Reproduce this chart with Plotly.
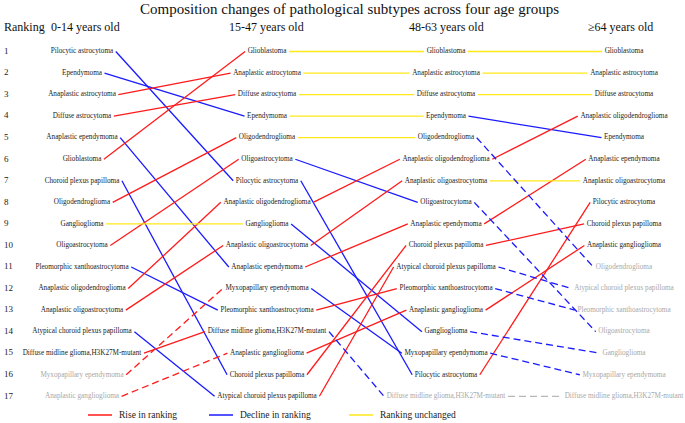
import plotly.graph_objects as go

# ---------------- data ----------------
ranks = list(range(1, 18))
age_groups = ["0-14 years old", "15-47 years old", "48-63 years old", "\u226564 years old"]

col_0_14 = [
    "Pilocytic astrocytoma", "Ependymoma", "Anaplastic astrocytoma", "Diffuse astrocytoma",
    "Anaplastic ependymoma", "Glioblastoma", "Choroid plexus papilloma", "Oligodendroglioma",
    "Ganglioglioma", "Oligoastrocytoma", "Pleomorphic xanthoastrocytoma",
    "Anaplastic oligodendroglioma", "Anaplastic oligoastrocytoma",
    "Atypical choroid plexus papilloma", "Diffuse midline glioma,H3K27M-mutant",
    "Myxopapillary ependymoma", "Anaplastic ganglioglioma",
]
col_15_47 = [
    "Glioblastoma", "Anaplastic astrocytoma", "Diffuse astrocytoma", "Ependymoma",
    "Oligodendroglioma", "Oligoastrocytoma", "Pilocytic astrocytoma",
    "Anaplastic oligodendroglioma", "Ganglioglioma", "Anaplastic oligoastrocytoma",
    "Anaplastic ependymoma", "Myxopapillary ependymoma", "Pleomorphic xanthoastrocytoma",
    "Diffuse midline glioma,H3K27M-mutant", "Anaplastic ganglioglioma",
    "Choroid plexus papilloma", "Atypical choroid plexus papilloma",
]
col_48_63 = [
    "Glioblastoma", "Anaplastic astrocytoma", "Diffuse astrocytoma", "Ependymoma",
    "Oligodendroglioma", "Anaplastic oligodendroglioma", "Anaplastic oligoastrocytoma",
    "Oligoastrocytoma", "Anaplastic ependymoma", "Choroid plexus papilloma",
    "Atypical choroid plexus papilloma", "Pleomorphic xanthoastrocytoma",
    "Anaplastic ganglioglioma", "Ganglioglioma", "Myxopapillary ependymoma",
    "Pilocytic astrocytoma", "Diffuse midline glioma,H3K27M-mutant",
]
col_64 = [
    "Glioblastoma", "Anaplastic astrocytoma", "Diffuse astrocytoma",
    "Anaplastic oligodendroglioma", "Ependymoma", "Anaplastic ependymoma",
    "Anaplastic oligoastrocytoma", "Pilocytic astrocytoma", "Choroid plexus papilloma",
    "Anaplastic ganglioglioma", "Oligodendroglioma", "Atypical choroid plexus papilloma",
    "Pleomorphic xanthoastrocytoma", "Oligoastrocytoma", "Ganglioglioma",
    "Myxopapillary ependymoma", "Diffuse midline glioma,H3K27M-mutant",
]
# subtypes shown in grey in each age group
grey_0_14 = ["Myxopapillary ependymoma", "Anaplastic ganglioglioma"]
grey_15_47 = []
grey_48_63 = ["Diffuse midline glioma,H3K27M-mutant"]
grey_64 = ["Oligodendroglioma", "Atypical choroid plexus papilloma",
           "Pleomorphic xanthoastrocytoma", "Oligoastrocytoma", "Ganglioglioma",
           "Myxopapillary ependymoma", "Diffuse midline glioma,H3K27M-mutant"]

legend_labels = ["Rise in ranking", "Decline in ranking", "Ranking unchanged"]

# ---------------- layout / style ----------------
W, H = 685, 423
FONT = "'Liberation Serif', 'Times New Roman', Times, 'DejaVu Serif', serif"
RED, BLUE, YELLOW, GREY_LINE = "#ff1a1a", "#1a1aff", "#ffe81a", "#b8b8b8"
TXT, TXT_GREY = "#222222", "#a8a8a8"
LABEL_SIZE = 7.2
col_x = [82, 267, 446, 624]   # column centres on the x axis (pixel-like units)
GAP = 2.5

columns = [col_0_14, col_15_47, col_48_63, col_64]
greys = [grey_0_14, grey_15_47, grey_48_63, grey_64]

# Times metrics (1/1000 em) for estimating label widths
TW = dict(zip("ABCDEFGHIJKLMNOPQRSTUVWXYZ",
              [722, 667, 667, 722, 611, 556, 722, 722, 333, 389, 722, 611, 889, 722, 722,
               556, 722, 667, 556, 611, 722, 722, 944, 722, 722, 611]))
TW.update(dict(zip("abcdefghijklmnopqrstuvwxyz",
                   [444, 500, 444, 500, 444, 333, 500, 500, 278, 278, 500, 278, 778, 500,
                    500, 500, 500, 333, 389, 278, 500, 500, 722, 500, 500, 444])))
TW.update({c: 500 for c in "0123456789"})
TW.update({" ": 250, ",": 250, "-": 333, ".": 250})


def text_w(s, size=LABEL_SIZE):
    return sum(TW.get(c, 500) for c in s) / 1000.0 * size


fig = go.Figure()

# connecting lines grouped by style
groups = {}
for i in range(3):
    a, b = columns[i], columns[i + 1]
    for r1, name in enumerate(a, start=1):
        r2 = b.index(name) + 1
        g1, g2 = name in greys[i], name in greys[i + 1]
        if g1 and g2:
            color = GREY_LINE
        elif r2 < r1:
            color = RED
        elif r2 > r1:
            color = BLUE
        else:
            color = YELLOW
        dashed = g1 or g2
        x1 = col_x[i] + text_w(name) / 2 + GAP
        x2 = col_x[i + 1] - text_w(name) / 2 - GAP
        key = (color, dashed)
        xs, ys = groups.setdefault(key, ([], []))
        xs += [x1, x2, None]
        ys += [r1, r2, None]

for (color, dashed), (xs, ys) in groups.items():
    fig.add_trace(go.Scatter(
        x=xs, y=ys, mode="lines", hoverinfo="skip", showlegend=False,
        line=dict(color=color, width=1.3, dash="7px,4px" if dashed else "solid"),
    ))

# labels
for i, col in enumerate(columns):
    fig.add_trace(go.Scatter(
        x=[col_x[i]] * len(col), y=ranks, mode="text", text=col,
        textposition="middle center", showlegend=False, hoverinfo="skip",
        textfont=dict(family=FONT, size=LABEL_SIZE,
                      color=[TXT_GREY if n in greys[i] else TXT for n in col]),
    ))

# rank numbers
fig.add_trace(go.Scatter(
    x=[4] * len(ranks), y=ranks, mode="text", text=[str(r) for r in ranks],
    textposition="middle right", showlegend=False, hoverinfo="skip",
    textfont=dict(family=FONT, size=9, color=TXT),
))

def py(px):
    return 1 - px / H

annotations = [
    dict(text="Composition changes of pathological subtypes across four age groups",
         x=349, y=py(9), xref="x", yref="paper", showarrow=False,
         font=dict(family=FONT, size=15, color="#111111"), xanchor="center", yanchor="middle"),
    dict(text="Ranking", x=2, y=py(27), xref="x", yref="paper", showarrow=False,
         font=dict(family=FONT, size=12, color="#111111"), xanchor="left", yanchor="middle"),
]
head_x = [85, 266, 446, 620]
for hx, lab in zip(head_x, age_groups):
    annotations.append(dict(text=lab, x=hx, y=py(27), xref="x", yref="paper", showarrow=False,
                            font=dict(family=FONT, size=12, color="#111111"),
                            xanchor="center", yanchor="middle"))

# legend
shapes = []
leg_line_x = [(88, 112), (209, 233), (349, 373)]
leg_colors = [RED, BLUE, YELLOW]
for (lx0, lx1), c, lab in zip(leg_line_x, leg_colors, legend_labels):
    shapes.append(dict(type="line", xref="x", yref="paper", x0=lx0, x1=lx1,
                       y0=py(415), y1=py(415), line=dict(color=c, width=1.5)))
    annotations.append(dict(text=lab, x=lx1 + 5, y=py(415), xref="x", yref="paper",
                            showarrow=False, xanchor="left", yanchor="middle",
                            font=dict(family=FONT, size=9.5, color="#222222")))

R0_PX, STEP = 51.5, 21.55
fig.update_layout(
    width=W, height=H, margin=dict(l=0, r=0, t=0, b=0),
    paper_bgcolor="white", plot_bgcolor="white",
    font=dict(family=FONT),
    xaxis=dict(range=[0, W], visible=False, fixedrange=True),
    yaxis=dict(range=[1 + (H - R0_PX) / STEP, 1 - R0_PX / STEP], visible=False, fixedrange=True),
    annotations=annotations, shapes=shapes, showlegend=False,
)

fig.write_html("out.html", config={"displayModeBar": False},
               post_script="document.body.style.margin='0';document.body.style.padding='0';")
